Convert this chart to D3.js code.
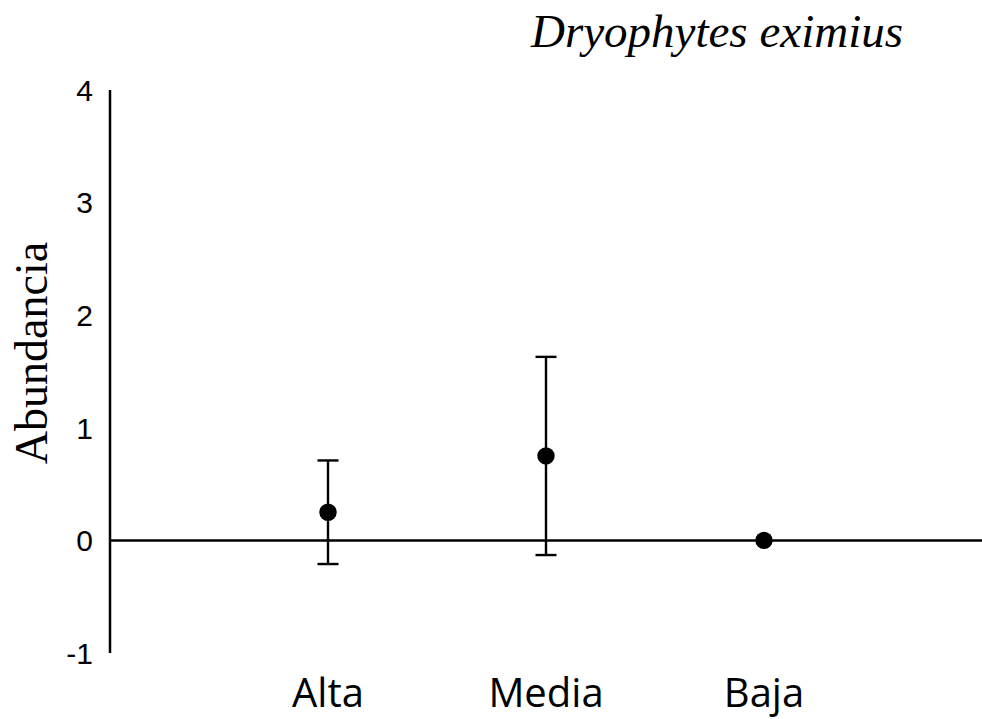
<!DOCTYPE html>
<html>
<head>
<meta charset="utf-8">
<script src="https://cdn.jsdelivr.net/npm/d3@7"></script>
<style>
  html, body { margin: 0; padding: 0; background: #fff; }
  svg { display: block; }
</style>
</head>
<body>
<div id="chart"></div>
<script>
// Abundance of Dryophytes eximius by altitude class (mean ± error)
const categories = ["Alta", "Media", "Baja"];
const means = [0.25, 0.75, 0.0];
const errors = [0.46, 0.88, 0.0];
const yTicks = [-1, 0, 1, 2, 3, 4];

const W = 982, H = 719;
const svg = d3.select("#chart").append("svg")
  .attr("width", W).attr("height", H);

const x = d3.scalePoint()
  .domain(categories)
  .range([110, 982])
  .padding(1);

const y = d3.scaleLinear()
  .domain([-1, 4])
  .range([653, 90]);

// y axis line
svg.append("line")
  .attr("x1", 110).attr("x2", 110)
  .attr("y1", y(4)).attr("y2", y(-1))
  .attr("stroke", "#000").attr("stroke-width", 2.5);

// zero line
svg.append("line")
  .attr("x1", 110).attr("x2", W)
  .attr("y1", y(0)).attr("y2", y(0))
  .attr("stroke", "#000").attr("stroke-width", 2.5);

// y tick labels
svg.selectAll("text.ytick")
  .data(yTicks)
  .join("text")
  .attr("class", "ytick")
  .attr("x", 93)
  .attr("y", d => y(d))
  .attr("dy", "0.36em")
  .attr("text-anchor", "end")
  .attr("font-family", "'Liberation Sans', Arial, sans-serif")
  .attr("font-size", 30)
  .attr("fill", "#000")
  .text(d => d);

// category labels
svg.selectAll("text.xcat")
  .data(categories)
  .join("text")
  .attr("class", "xcat")
  .attr("x", d => x(d))
  .attr("y", 707)
  .attr("text-anchor", "middle")
  .attr("font-family", "'Open Sans', Carlito, Calibri, sans-serif")
  .attr("font-size", 40)
  .attr("fill", "#000")
  .text(d => d);

const data = categories.map((c, i) => ({ c, m: means[i], e: errors[i] }));
const capW = 10.5;

const g = svg.append("g");
const withErr = data.filter(d => d.e > 0);

g.selectAll("line.stem")
  .data(withErr)
  .join("line")
  .attr("x1", d => x(d.c)).attr("x2", d => x(d.c))
  .attr("y1", d => y(d.m + d.e)).attr("y2", d => y(d.m - d.e))
  .attr("stroke", "#000").attr("stroke-width", 2.4);

g.selectAll("line.capTop")
  .data(withErr)
  .join("line")
  .attr("x1", d => x(d.c) - capW).attr("x2", d => x(d.c) + capW)
  .attr("y1", d => y(d.m + d.e)).attr("y2", d => y(d.m + d.e))
  .attr("stroke", "#000").attr("stroke-width", 2.4);

g.selectAll("line.capBot")
  .data(withErr)
  .join("line")
  .attr("x1", d => x(d.c) - capW).attr("x2", d => x(d.c) + capW)
  .attr("y1", d => y(d.m - d.e)).attr("y2", d => y(d.m - d.e))
  .attr("stroke", "#000").attr("stroke-width", 2.4);

g.selectAll("circle.pt")
  .data(data)
  .join("circle")
  .attr("cx", d => x(d.c))
  .attr("cy", d => y(d.m))
  .attr("r", 8.7)
  .attr("fill", "#000");

// y axis title
svg.append("text")
  .attr("transform", "translate(47,353) rotate(-90)")
  .attr("text-anchor", "middle")
  .attr("font-family", "'Liberation Serif', 'Times New Roman', serif")
  .attr("font-size", 46)
  .attr("fill", "#000")
  .text("Abundancia");

// chart title
svg.append("text")
  .attr("x", 717)
  .attr("y", 47)
  .attr("text-anchor", "middle")
  .attr("font-family", "'Liberation Serif', 'Times New Roman', serif")
  .attr("font-style", "italic")
  .attr("font-size", 47)
  .attr("fill", "#000")
  .text("Dryophytes eximius");
</script>
</body>
</html>
